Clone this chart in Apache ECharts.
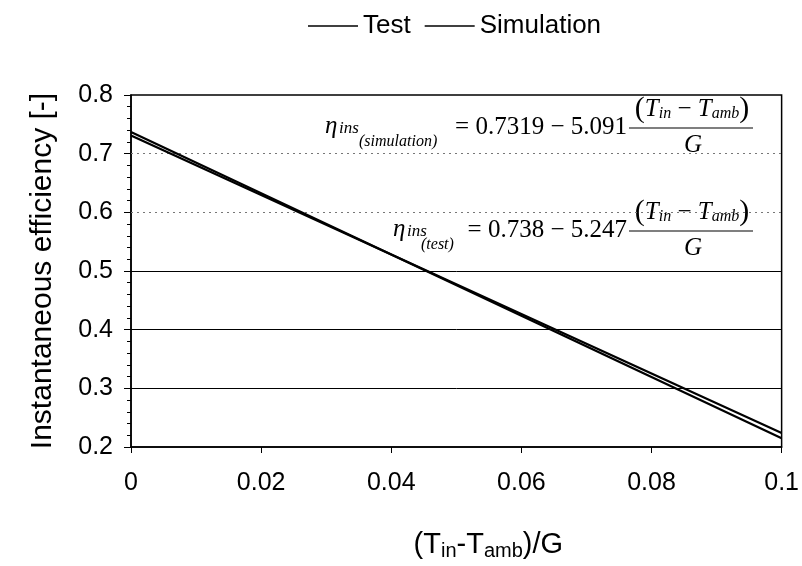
<!DOCTYPE html>
<html>
<head>
<meta charset="utf-8">
<script src="https://cdn.jsdelivr.net/npm/echarts@6/dist/echarts.min.js"></script>
<style>html,body{margin:0;padding:0;background:#fff}#c{width:802px;height:566px}</style>
</head>
<body>
<div id="c"></div>
<script>
// Data
const xValues = [0, 0.1];
const testValues = [0.737, 0.215];
const simulationValues = [0.731, 0.224];
const yTicks = [0.2, 0.3, 0.4, 0.5, 0.6, 0.7, 0.8];
const xTicks = [0, 0.02, 0.04, 0.06, 0.08, 0.1];
const solidGrid = [0.3, 0.4, 0.5];
const dottedGrid = [0.6, 0.7];

const chart = echarts.init(document.getElementById('c'), null, {renderer: 'canvas'});
const sans = 'Liberation Sans, Arial, sans-serif';
const serif = 'Liberation Serif, Times New Roman, serif';

function pairs(xs, ys) { return xs.map((x, i) => [x, ys[i]]); }

const gridMarks = solidGrid.map(v => ({yAxis: v, lineStyle: {color: '#000', width: 1, type: 'solid'}}))
  .concat(dottedGrid.map(v => ({yAxis: v, lineStyle: {color: '#777', width: 1, type: [2, 4]}})));

const numRich = {
  par: {fontFamily: serif, fontSize: 30, fill: '#000'},
  it: {fontFamily: serif, fontStyle: 'italic', fontSize: 25},
  rm: {fontFamily: serif, fontSize: 25},
  s: {fontFamily: serif, fontStyle: 'italic', fontSize: 16, padding: [10, 0, 0, 0]}
};

function t(x, y, text, font, align) {
  return {type: 'text', x: x, y: y, style: {text: text, font: font, fill: '#000', align: align || 'left', verticalAlign: 'middle'}};
}

function equation(etaX, rowY, who, lhs, dx) {
  return [
    t(etaX, rowY, 'η', 'italic 25px ' + serif),
    t(etaX + 14, rowY + 3, 'ins', 'italic 17px ' + serif),
    t(etaX + 34 + dx, rowY + 16, '(' + who + ')', 'italic 16px ' + serif),
    t(627, rowY + 1, lhs, '25px ' + serif, 'right'),
    {type: 'text', x: 692, y: rowY - 17, style: {text: '{par|(}{it|T}{s|in}{rm| − }{it|T}{s|amb}{par|)}', rich: numRich, align: 'center', verticalAlign: 'middle'}},
    {type: 'line', shape: {x1: 629, y1: rowY + 2, x2: 753, y2: rowY + 2}, style: {stroke: '#000', lineWidth: 1.2}},
    t(693, rowY + 19, 'G', 'italic 25px ' + serif, 'center')
  ];
}

const option = {
  backgroundColor: '#fff',
  animation: false,
  grid: {left: 131, right: 19, top: 95, bottom: 115, show: true, borderColor: '#000', borderWidth: 1.5},
  legend: {
    top: 8, left: 303, icon: 'rect', itemWidth: 50, itemHeight: 1.5, itemGap: 14,
    textStyle: {fontFamily: sans, fontSize: 26, color: '#000'},
    data: ['Test', 'Simulation']
  },
  xAxis: {
    type: 'value', min: 0, max: 0.1, interval: 0.02,
    axisLine: {show: true, lineStyle: {color: '#000', width: 1.5}},
    axisTick: {show: true, length: 6, lineStyle: {color: '#000'}},
    splitLine: {show: false},
    axisLabel: {
      margin: 24, fontFamily: sans, fontSize: 25, color: '#000',
      formatter: v => String(parseFloat(v.toFixed(2)))
    },
    name: '(T{s|in}-T{s|amb})/G', nameLocation: 'middle', nameGap: 82,
    nameTextStyle: {fontFamily: sans, fontSize: 29, color: '#000', padding: [0, 0, 0, 64],
      rich: {s: {fontFamily: sans, fontSize: 20, padding: [12, 0, 0, 0], color: '#000'}}}
  },
  yAxis: {
    type: 'value', min: 0.2, max: 0.8, interval: 0.1,
    axisLine: {show: true, lineStyle: {color: '#000', width: 1.5}},
    axisTick: {show: true, length: 7, lineStyle: {color: '#000'}},
    minorTick: {show: true, splitNumber: 5, length: 4, lineStyle: {color: '#000'}},
    splitLine: {show: false},
    axisLabel: {margin: 18, fontFamily: sans, fontSize: 25, color: '#000', formatter: v => v.toFixed(1)},
    name: 'Instantaneous efficiency [-]', nameLocation: 'middle', nameGap: 73,
    nameTextStyle: {fontFamily: sans, fontSize: 30, color: '#000'}
  },
  series: [
    {
      name: 'Test', type: 'line', data: pairs(xValues, testValues), symbol: 'none',
      lineStyle: {color: '#000', width: 2.2}, itemStyle: {color: '#000'}, z: 5,
      markLine: {silent: true, symbol: 'none', label: {show: false}, data: gridMarks, z: 1, animation: false}
    },
    {
      name: 'Simulation', type: 'line', data: pairs(xValues, simulationValues), symbol: 'none',
      lineStyle: {color: '#000', width: 2.2}, itemStyle: {color: '#000'}, z: 5
    }
  ],
  graphic: equation(325, 126, 'simulation', '= 0.7319 − 5.091', 0)
    .concat(equation(393, 229, 'test', '= 0.738 − 5.247', -6))
};
chart.setOption(option);
</script>
</body>
</html>
